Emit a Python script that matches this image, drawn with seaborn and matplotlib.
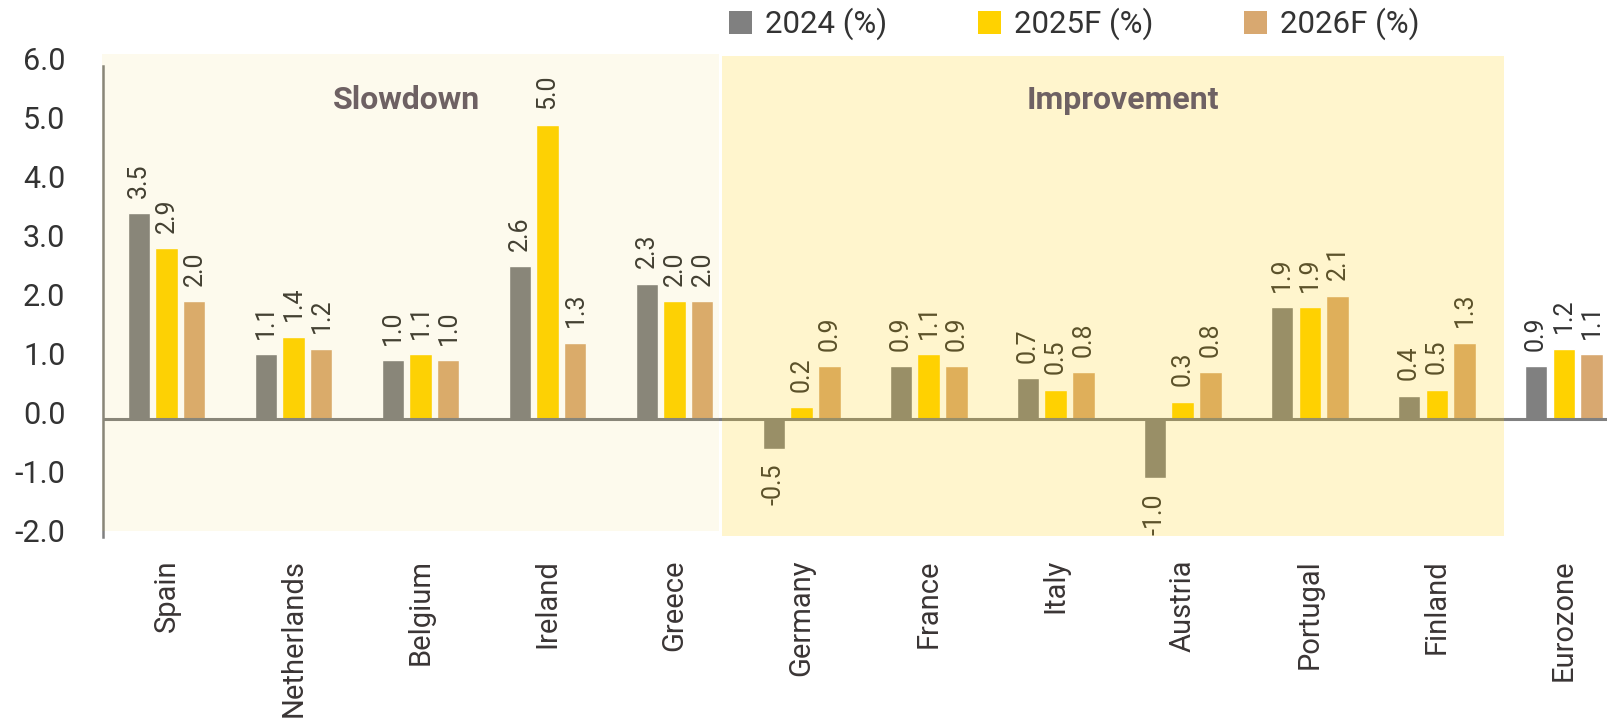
import pandas as pd
import matplotlib.pyplot as plt
import seaborn as sns
from matplotlib.patches import Rectangle
from matplotlib.transforms import ScaledTranslation

countries = ["Spain", "Netherlands", "Belgium", "Ireland", "Greece", "Germany",
             "France", "Italy", "Austria", "Portugal", "Finland", "Eurozone"]
v2024 = [3.5, 1.1, 1.0, 2.6, 2.3, -0.5, 0.9, 0.7, -1.0, 1.9, 0.4, 0.9]
v2025 = [2.9, 1.4, 1.1, 5.0, 2.0, 0.2, 1.1, 0.5, 0.3, 1.9, 0.5, 1.2]
v2026 = [2.0, 1.2, 1.0, 1.3, 2.0, 0.9, 0.9, 0.8, 0.8, 2.1, 1.3, 1.1]
series = ["2024 (%)", "2025F (%)", "2026F (%)"]
colors = ["#808080", "#FFD200", "#D8A870"]

sns.set_style("white")
plt.rcParams["font.family"] = ["Roboto", "DejaVu Sans"]

df = pd.DataFrame({
    "country": countries * 3,
    "value": v2024 + v2025 + v2026,
    "series": [s for s in series for _ in countries],
})

fig = plt.figure(figsize=(16.08, 7.28), dpi=100)
ax = fig.add_axes([103 / 1608, 1 - 537 / 728, 1505 / 1608, (537 - 54) / 728])

sns.barplot(data=df, x="country", y="value", hue="series", order=countries,
            hue_order=series, palette=colors, width=0.66, gap=0.21,
            saturation=1, legend=False, ax=ax, zorder=2)

for cont in ax.containers:
    ax.bar_label(cont, fmt="%.1f", rotation=90, padding=11, fontsize=18,
                 color="#333333", zorder=3)

ax.axhline(0, color="#808080", lw=2.2, zorder=3)
ax.set_xlim(-0.5, 11.35)
ax.set_ylim(-2, 6.2)
ax.set_yticks(range(-2, 7))
ax.set_yticklabels([f"{t:.1f}" for t in range(-2, 7)])
ax.set_xlabel("")
ax.set_ylabel("")
ax.tick_params(axis="y", length=0, pad=27, labelsize=22, labelcolor="#333333")
ax.tick_params(axis="x", length=0, pad=16, labelsize=21, labelcolor="#3a3535",
               labelrotation=90)
off = ScaledTranslation(0, 0.07, fig.dpi_scale_trans)
for lab in ax.get_yticklabels():
    lab.set_transform(lab.get_transform() + off)

for s in ["top", "right", "bottom"]:
    ax.spines[s].set_visible(False)
ax.spines["left"].set_bounds(-2, 6)
ax.spines["left"].set_color("#808080")
ax.spines["left"].set_linewidth(1.8)
ax.patch.set_alpha(0)

# shaded groups drawn over bars so they get tinted like the original
ax.add_patch(Rectangle((-0.504, -1.9), 4.854, 8.1, facecolor="#F0CC30",
                       alpha=0.085, lw=0, zorder=5, clip_on=False))
ax.add_patch(Rectangle((4.37, -1.99), 6.16, 8.16, facecolor="#FFCE06",
                       alpha=0.2, lw=0, zorder=5, clip_on=False))

ax.text(1.89, 5.42, "Slowdown", ha="center", va="center", fontsize=23,
        fontweight="bold", color="#6E6163", zorder=6)
ax.text(7.53, 5.42, "Improvement", ha="center", va="center", fontsize=23,
        fontweight="bold", color="#6E6163", zorder=6)

handles = [Rectangle((0, 0), 1, 1, facecolor=c, lw=0) for c in colors]
fig.legend(handles, series, loc="center", bbox_to_anchor=(1074 / 1608, 1 - 24 / 728),
           ncol=3, frameon=False, fontsize=22.5, handlelength=0.75, handleheight=0.75,
           handletextpad=0.4, columnspacing=2.9, labelcolor="#333333")

fig.savefig("out.png", dpi=100)
